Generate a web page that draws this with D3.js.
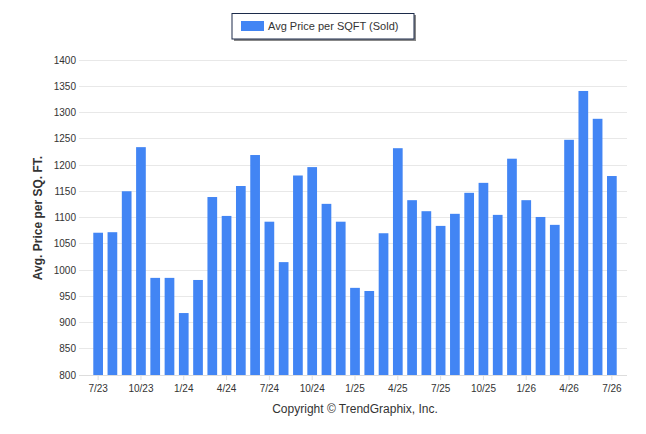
<!DOCTYPE html>
<html>
<head>
<meta charset="utf-8">
<script src="https://cdn.jsdelivr.net/npm/d3@7"></script>
<style>
  body { margin: 0; background: #fff; }
  text { font-family: "Liberation Sans", Arial, sans-serif; }
</style>
</head>
<body>
<div id="chart"></div>
<script>
const months = [
  "7/23","8/23","9/23","10/23","11/23","12/23","1/24","2/24","3/24","4/24","5/24","6/24",
  "7/24","8/24","9/24","10/24","11/24","12/24","1/25","2/25","3/25","4/25","5/25","6/25",
  "7/25","8/25","9/25","10/25","11/25","12/25","1/26","2/26","3/26","4/26","5/26","6/26","7/26"
];
const avgPrice = [
  1071, 1072, 1150, 1234, 985, 985, 918, 981, 1139, 1103, 1160, 1219,
  1092, 1015, 1180, 1196, 1126, 1092, 966, 960, 1070, 1232, 1133, 1112,
  1084, 1107, 1147, 1166, 1105, 1212, 1133, 1101, 1086, 1248, 1341, 1288, 1179
];
const yTicks = [800, 850, 900, 950, 1000, 1050, 1100, 1150, 1200, 1250, 1300, 1350, 1400];
const xTickLabels = ["7/23","10/23","1/24","4/24","7/24","10/24","1/25","4/25","7/25","10/25","1/26","4/26","7/26"];

const width = 646, height = 434;
const plot = {left: 79, right: 627, top: 60, bottom: 375};

const svg = d3.select("#chart").append("svg")
  .attr("width", width)
  .attr("height", height);

const y = d3.scaleLinear()
  .domain([800, 1400])
  .range([plot.bottom, plot.top]);

const x = d3.scaleBand()
  .domain(months)
  .range([91, 619])
  .paddingInner(0.32)
  .paddingOuter(0.16);

// gridlines
svg.append("g")
  .selectAll("line")
  .data(yTicks)
  .enter()
  .append("line")
    .attr("x1", plot.left)
    .attr("x2", plot.right)
    .attr("y1", d => y(d))
    .attr("y2", d => y(d))
    .attr("stroke", "#e8e8e8")
    .attr("stroke-width", 1)
    .attr("shape-rendering", "crispEdges");

// y labels
svg.append("g")
  .selectAll("text")
  .data(yTicks)
  .enter()
  .append("text")
    .attr("x", 76)
    .attr("y", d => y(d))
    .attr("dy", "0.35em")
    .attr("text-anchor", "end")
    .attr("font-size", 10)
    .attr("fill", "#333")
    .text(d => d);

// bars
svg.append("g")
  .selectAll("rect")
  .data(avgPrice)
  .enter()
  .append("rect")
    .attr("x", (d, i) => x(months[i]))
    .attr("width", x.bandwidth())
    .attr("y", d => y(d))
    .attr("height", d => y(800) - y(d))
    .attr("fill", "#4285f4");

// x axis
const xAxis = svg.append("g")
  .attr("transform", `translate(0, ${plot.bottom})`)
  .call(d3.axisBottom(x).tickValues(xTickLabels).tickSize(5).tickSizeOuter(0));
xAxis.select(".domain").remove();
xAxis.selectAll(".tick line").attr("stroke", "#ddd");
xAxis.selectAll(".tick text")
  .attr("font-family", "Liberation Sans, Arial, sans-serif")
  .attr("font-size", 10)
  .attr("fill", "#333")
  .attr("dy", "0.85em");

svg.append("line")
  .attr("x1", plot.left)
  .attr("x2", plot.right)
  .attr("y1", plot.bottom + 0.5)
  .attr("y2", plot.bottom + 0.5)
  .attr("stroke", "#ddd");

// y title
svg.append("text")
  .attr("transform", `translate(42, 218) rotate(-90)`)
  .attr("text-anchor", "middle")
  .attr("font-size", 12)
  .attr("font-weight", "bold")
  .attr("fill", "#333")
  .text("Avg. Price per SQ. FT.");

// legend
const legend = svg.append("g");
legend.append("rect")
  .attr("x", 234).attr("y", 15)
  .attr("width", 182).attr("height", 26)
  .attr("fill", "#888");
legend.append("rect")
  .attr("x", 232).attr("y", 13.5)
  .attr("width", 182).attr("height", 25.5)
  .attr("fill", "#fff")
  .attr("stroke", "#1c2b4a")
  .attr("stroke-width", 1);
legend.append("rect")
  .attr("x", 241).attr("y", 21)
  .attr("width", 23).attr("height", 10)
  .attr("fill", "#4285f4");
legend.append("text")
  .attr("x", 268).attr("y", 30)
  .attr("font-size", 11)
  .attr("fill", "#333")
  .text("Avg Price per SQFT (Sold)");

// copyright
svg.append("text")
  .attr("x", 355).attr("y", 413)
  .attr("text-anchor", "middle")
  .attr("font-size", 12)
  .attr("fill", "#333")
  .text("Copyright \u00A9 TrendGraphix, Inc.");
</script>
</body>
</html>
